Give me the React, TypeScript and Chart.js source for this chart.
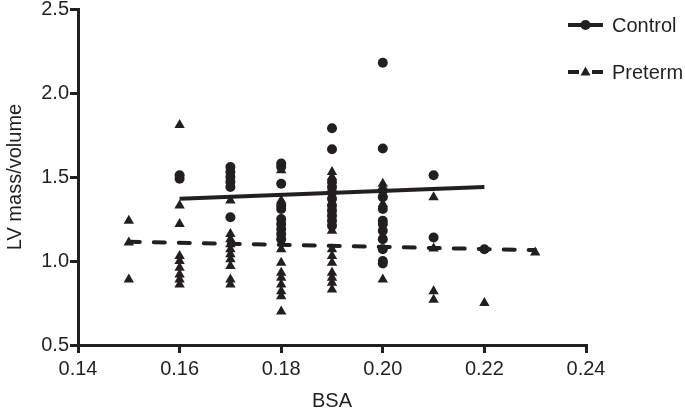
import { useEffect, useRef } from "react";
import { Chart, registerables } from "chart.js";

Chart.register(...registerables);

// ---- Data ----
const controlX = [
  0.16, 0.16,
  0.17, 0.17, 0.17, 0.17, 0.17, 0.17,
  0.18, 0.18, 0.18, 0.18, 0.18, 0.18, 0.18, 0.18, 0.18, 0.18,
  0.19, 0.19, 0.19, 0.19, 0.19, 0.19, 0.19, 0.19, 0.19, 0.19, 0.19,
  0.2, 0.2, 0.2, 0.2, 0.2, 0.2, 0.2, 0.2, 0.2, 0.2, 0.2, 0.2,
  0.21, 0.21,
  0.22,
];
const controlY = [
  1.49, 1.51,
  1.56, 1.53, 1.5, 1.47, 1.44, 1.26,
  1.58, 1.56, 1.46, 1.33, 1.31, 1.25, 1.22, 1.19, 1.16, 1.13,
  1.79, 1.665, 1.47, 1.44, 1.41, 1.37, 1.33, 1.3, 1.27, 1.24, 1.21,
  2.18, 1.67, 1.42, 1.38, 1.31, 1.24, 1.22, 1.18, 1.13, 1.07, 1.0, 0.985,
  1.51, 1.14,
  1.07,
];
const pretermX = [
  0.15, 0.15, 0.15,
  0.16, 0.16, 0.16, 0.16, 0.16, 0.16, 0.16, 0.16, 0.16,
  0.17, 0.17, 0.17, 0.17, 0.17, 0.17, 0.17, 0.17, 0.17, 0.17,
  0.18, 0.18, 0.18, 0.18, 0.18, 0.18, 0.18, 0.18, 0.18, 0.18,
  0.19, 0.19, 0.19, 0.19, 0.19, 0.19, 0.19, 0.19, 0.19, 0.19,
  0.2, 0.2, 0.2, 0.2,
  0.21, 0.21, 0.21, 0.21,
  0.22,
  0.23,
];
const pretermY = [
  1.24, 1.11, 0.89,
  1.81, 1.33, 1.22, 1.03, 1.0, 0.96, 0.92, 0.89, 0.86,
  1.36, 1.16, 1.13, 1.1, 1.07, 1.04, 1.01, 0.97, 0.89, 0.86,
  1.54, 1.36, 1.07, 0.99, 0.93, 0.9, 0.86, 0.82, 0.79, 0.7,
  1.53, 1.5, 1.18, 1.07, 1.03, 0.99, 0.93, 0.9, 0.87, 0.83,
  1.46, 1.4, 1.34, 0.89,
  1.38, 1.075, 0.82, 0.77,
  0.75,
  1.05,
];
const controlFitX = [0.16, 0.22];
const controlFitY = [1.37, 1.44];
const pretermFitX = [0.15, 0.23];
const pretermFitY = [1.115, 1.065];

const xTicks = [0.14, 0.16, 0.18, 0.2, 0.22, 0.24];
const yTicks = [0.5, 1.0, 1.5, 2.0, 2.5];
const seriesNames = ["Control", "Preterm"];
const xTitle = "BSA";
const yTitle = "LV mass/volume";

const INK = "#231f20";
const FONT = "'Liberation Sans', Arial, Helvetica, sans-serif";

const pts = (xs: number[], ys: number[]) => xs.map((x, i) => ({ x, y: ys[i] }));

const legendPlugin = {
  id: "customLegend",
  afterDraw(chart: any) {
    const ctx = chart.ctx as CanvasRenderingContext2D;
    ctx.save();
    ctx.strokeStyle = INK;
    ctx.fillStyle = INK;
    ctx.lineWidth = 4;
    ctx.lineCap = "butt";
    const x0 = 568, x1 = 603, xm = 585.5, tx = 612;
    // Control
    let y = 25;
    ctx.beginPath();
    ctx.moveTo(x0, y);
    ctx.lineTo(x1, y);
    ctx.stroke();
    ctx.beginPath();
    ctx.arc(xm, y, 5, 0, Math.PI * 2);
    ctx.fill();
    ctx.font = `20px ${FONT}`;
    ctx.textBaseline = "middle";
    ctx.textAlign = "left";
    ctx.fillText(seriesNames[0], tx, y + 1);
    // Preterm
    y = 72;
    ctx.beginPath();
    ctx.moveTo(x0, y);
    ctx.lineTo(x0 + 11, y);
    ctx.moveTo(x1 - 11, y);
    ctx.lineTo(x1, y);
    ctx.stroke();
    ctx.beginPath();
    ctx.moveTo(xm, y - 5.5);
    ctx.lineTo(xm + 5, y + 3.5);
    ctx.lineTo(xm - 5, y + 3.5);
    ctx.closePath();
    ctx.fill();
    ctx.fillText(seriesNames[1], tx, y + 1);
    ctx.restore();
  },
};

export default function App() {
  const ref = useRef<HTMLCanvasElement>(null);
  useEffect(() => {
    document.body.style.margin = "0";
    const chart = new Chart(ref.current!, {
      type: "scatter",
      data: {
        datasets: [
          {
            type: "line",
            label: "Control fit",
            data: pts(controlFitX, controlFitY),
            borderColor: INK,
            borderWidth: 4,
            pointRadius: 0,
            showLine: true,
          } as any,
          {
            type: "line",
            label: "Preterm fit",
            data: pts(pretermFitX, pretermFitY),
            borderColor: INK,
            borderWidth: 4,
            borderDash: [11, 14],
            borderCapStyle: "round",
            pointRadius: 0,
            showLine: true,
          } as any,
          {
            label: seriesNames[0],
            data: pts(controlX, controlY),
            pointStyle: "circle",
            pointRadius: 5,
            backgroundColor: INK,
            borderColor: INK,
            borderWidth: 0,
          },
          {
            label: seriesNames[1],
            data: pts(pretermX, pretermY),
            pointStyle: "triangle",
            pointRadius: 6,
            backgroundColor: INK,
            borderColor: INK,
            borderWidth: 0,
          },
        ],
      },
      options: {
        animation: false,
        responsive: true,
        maintainAspectRatio: false,
        layout: { padding: { top: 8, right: 99, left: 0, bottom: 0 } },
        plugins: { legend: { display: false }, tooltip: { enabled: false } },
        scales: {
          x: {
            type: "linear",
            min: 0.14,
            max: 0.24,
            afterBuildTicks: (s: any) => {
              s.ticks = xTicks.map((v) => ({ value: v }));
            },
            afterFit: (s: any) => {
              s.height = 65;
            },
            ticks: {
              callback: (v: any) => Number(v).toFixed(2),
              font: { family: FONT, size: 20 },
              color: INK,
              padding: 4,
              maxRotation: 0,
            },
            grid: { drawOnChartArea: false, tickLength: 8, lineWidth: 3, color: INK },
            border: { color: INK, width: 3 },
            title: {
              display: true,
              text: xTitle,
              color: INK,
              font: { family: FONT, size: 20, lineHeight: 0.9 },
              padding: { top: 0, bottom: 0 },
            },
          },
          y: {
            type: "linear",
            min: 0.5,
            max: 2.5,
            afterBuildTicks: (s: any) => {
              s.ticks = yTicks.map((v) => ({ value: v }));
            },
            afterFit: (s: any) => {
              s.width = 78;
            },
            ticks: {
              callback: (v: any) => Number(v).toFixed(1),
              font: { family: FONT, size: 20, lineHeight: 0.8 },
              color: INK,
              padding: 1,
            },
            grid: { drawOnChartArea: false, tickLength: 8, lineWidth: 3, color: INK },
            border: { color: INK, width: 3 },
            title: {
              display: true,
              text: yTitle,
              color: INK,
              font: { family: FONT, size: 20 },
              padding: { top: 3, bottom: 0 },
            },
          },
        },
      },
      plugins: [legendPlugin],
    });
    return () => chart.destroy();
  }, []);
  return (
    <div style={{ width: 685, height: 410, position: "relative" }}>
      <canvas ref={ref} />
    </div>
  );
}
